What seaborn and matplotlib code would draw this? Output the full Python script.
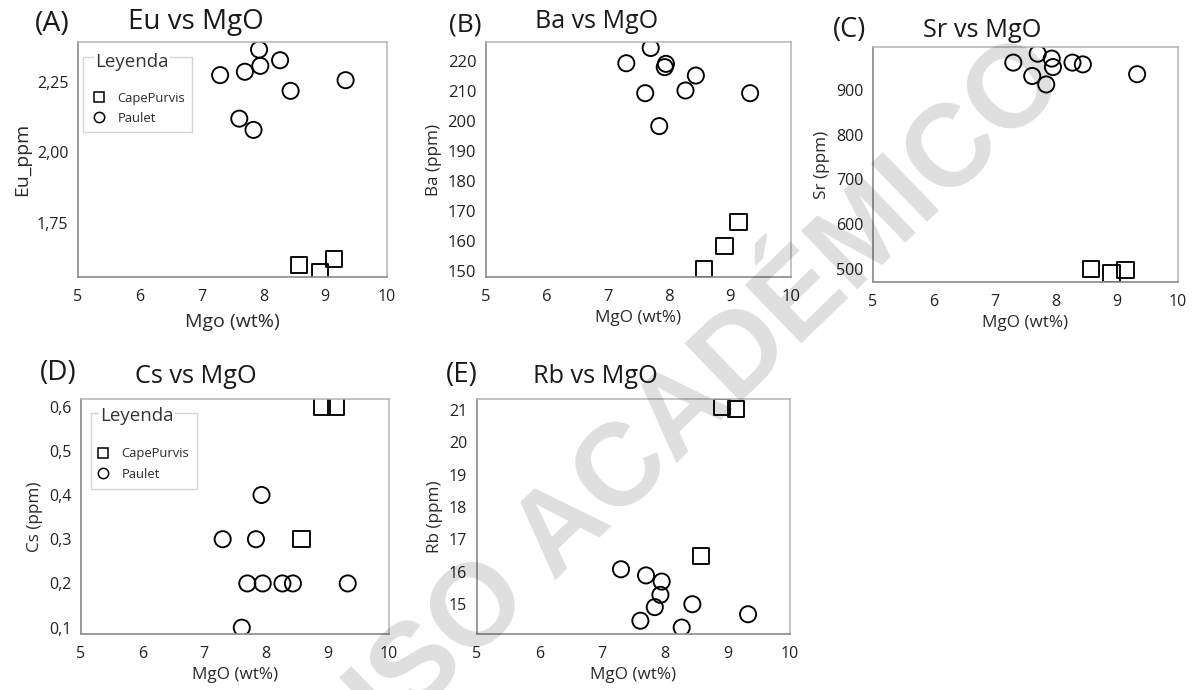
import matplotlib
matplotlib.use("Agg")
import matplotlib.pyplot as plt
from matplotlib.patches import Rectangle
from matplotlib.ticker import FixedLocator, FixedFormatter
import pandas as pd
import seaborn as sns

# ---- data -------------------------------------------------------------
group_order = ["CapePurvis", "Paulet"]

mgo_cape = [8.58, 8.91, 9.14]
mgo_paulet = [7.30, 7.61, 7.70, 7.84, 7.93, 7.95, 8.27, 8.44, 9.33]

eu_cape = [1.600, 1.575, 1.620]
eu_paulet = [2.275, 2.120, 2.287, 2.080, 2.366, 2.308, 2.328, 2.219, 2.257]

ba_cape = [150.6, 158.4, 166.3]
ba_paulet = [219.4, 209.4, 224.5, 198.4, 218.1, 219.2, 210.3, 215.3, 209.4]

sr_cape = [500, 489, 496]
sr_paulet = [962, 932, 982, 913, 971, 952, 962, 958, 936]

cs_cape = [0.3, 0.6, 0.6]
cs_paulet = [0.3, 0.1, 0.2, 0.3, 0.4, 0.2, 0.2, 0.2, 0.2]

rb_cape = [16.49, 21.10, 21.03]
rb_paulet = [16.08, 14.49, 15.89, 14.91, 15.29, 15.70, 14.28, 15.00, 14.69]

x_ticks = [5, 6, 7, 8, 9, 10]
x_tick_labels = ["5", "6", "7", "8", "9", "10"]

eu_ticks = [1.75, 2.00, 2.25]
eu_tick_labels = ["1,75", "2,00", "2,25"]
ba_ticks = [150, 160, 170, 180, 190, 200, 210, 220]
ba_tick_labels = ["150", "160", "170", "180", "190", "200", "210", "220"]
sr_ticks = [500, 600, 700, 800, 900]
sr_tick_labels = ["500", "600", "700", "800", "900"]
cs_ticks = [0.1, 0.2, 0.3, 0.4, 0.5, 0.6]
cs_tick_labels = ["0,1", "0,2", "0,3", "0,4", "0,5", "0,6"]
rb_ticks = [15, 16, 17, 18, 19, 20, 21]
rb_tick_labels = ["15", "16", "17", "18", "19", "20", "21"]

df = pd.DataFrame({
    "MgO": mgo_cape + mgo_paulet,
    "Eu": eu_cape + eu_paulet,
    "Ba": ba_cape + ba_paulet,
    "Sr": sr_cape + sr_paulet,
    "Cs": cs_cape + cs_paulet,
    "Rb": rb_cape + rb_paulet,
    "Grupo": ["CapePurvis"] * len(mgo_cape) + ["Paulet"] * len(mgo_paulet),
})

# ---- style ------------------------------------------------------------
sns.set_style("white")
plt.rcParams["font.family"] = ["Open Sans", "DejaVu Sans"]
plt.rcParams["text.color"] = "#1a1a1a"

W, H = 1199, 690
fig = plt.figure(figsize=(W / 100, H / 100), dpi=100)


def px_rect(left, top, right, bottom):
    return [left / W, 1 - bottom / H, (right - left) / W, (bottom - top) / H]


def fig_text(x, y, s, **kw):
    fig.text(x / W, 1 - y / H, s, va="baseline", ha="left", **kw)


panels = [
    dict(col="Eu", ylabel="Eu_ppm", xlabel="Mgo (wt%)", letter="(A)", title="Eu vs MgO",
         box=(78, 42, 387, 277), ylim=(1.556, 2.393), yt=eu_ticks, ytl=eu_tick_labels,
         letter_pos=(35, 31), title_pos=(128, 29), letter_fs=20.5, title_fs=20,
         label_fs=14, xpad=6, ypad=4, tick_fs=11.5,
         legend=dict(anchor=(0.048, 0.789), frame=(0.016, 0.617, 0.369, 0.936),
                     title=(0.055, 0.917))),
    dict(col="Ba", ylabel="Ba (ppm)", xlabel="MgO (wt%)", letter="(B)", title="Ba vs MgO",
         box=(486, 42, 791, 277), ylim=(148.0, 226.5), yt=ba_ticks, ytl=ba_tick_labels,
         letter_pos=(449, 31), title_pos=(535, 28), letter_fs=19, title_fs=18,
         label_fs=12.3, xpad=4, ypad=4, tick_fs=12, legend=None),
    dict(col="Sr", ylabel="Sr (ppm)", xlabel="MgO (wt%)", letter="(C)", title="Sr vs MgO",
         box=(873, 47, 1178, 282), ylim=(470, 997), yt=sr_ticks, ytl=sr_tick_labels,
         letter_pos=(833, 37), title_pos=(923, 37), letter_fs=19.5, title_fs=18.3,
         label_fs=12.3, xpad=4, ypad=4, tick_fs=11.5, legend=None),
    dict(col="Cs", ylabel="Cs (ppm)", xlabel="MgO (wt%)", letter="(D)", title="Cs vs MgO",
         box=(81, 399, 389, 634), ylim=(0.0857, 0.617), yt=cs_ticks, ytl=cs_tick_labels,
         letter_pos=(40, 380), title_pos=(135, 383), letter_fs=20, title_fs=18.2,
         label_fs=12.3, xpad=4, ypad=4, tick_fs=11.5,
         legend=dict(anchor=(0.051, 0.794), frame=(0.032, 0.617, 0.377, 0.940),
                     title=(0.062, 0.928))),
    dict(col="Rb", ylabel="Rb (ppm)", xlabel="MgO (wt%)", letter="(E)", title="Rb vs MgO",
         box=(477, 399, 790, 634), ylim=(14.08, 21.34), yt=rb_ticks, ytl=rb_tick_labels,
         letter_pos=(446, 382), title_pos=(533, 383), letter_fs=20, title_fs=18.2,
         label_fs=12.3, xpad=4, ypad=4, tick_fs=11.5, legend=None),
]

marker_map = {"CapePurvis": "s", "Paulet": "o"}

for p in panels:
    ax = fig.add_axes(px_rect(*p["box"]))
    sns.scatterplot(data=df, x="MgO", y=p["col"], style="Grupo", style_order=group_order,
                    markers=marker_map, s=135, color="black",
                    legend=bool(p["legend"]), ax=ax)
    for coll in ax.collections:
        coll.set_facecolor("none")
        coll.set_edgecolor("black")
        coll.set_linewidth(1.35)

    ax.set_xlim(5, 10)
    ax.set_ylim(*p["ylim"])
    ax.xaxis.set_major_locator(FixedLocator(x_ticks))
    ax.xaxis.set_major_formatter(FixedFormatter(x_tick_labels))
    ax.yaxis.set_major_locator(FixedLocator(p["yt"]))
    ax.yaxis.set_major_formatter(FixedFormatter(p["ytl"]))
    ax.tick_params(axis="x", length=0, pad=8.5, labelsize=p["tick_fs"], labelcolor="#222222")
    ax.tick_params(axis="y", length=0, pad=7, labelsize=p["tick_fs"], labelcolor="#222222")
    ax.set_xlabel(p["xlabel"], fontsize=p["label_fs"], color="#2a2a2a", labelpad=p["xpad"])
    ax.set_ylabel(p["ylabel"], fontsize=p["label_fs"], color="#2a2a2a", labelpad=p["ypad"])

    for side in ("left", "bottom"):
        ax.spines[side].set_color("#8a8a8a")
        ax.spines[side].set_linewidth(1.2)
    for side in ("top", "right"):
        ax.spines[side].set_color("#b4b4b4")
        ax.spines[side].set_linewidth(1.1)

    fig_text(*p["letter_pos"], p["letter"], fontsize=p["letter_fs"])
    fig_text(*p["title_pos"], p["title"], fontsize=p["title_fs"])

    lg = p["legend"]
    if lg:
        sns.move_legend(ax, "upper left", bbox_to_anchor=lg["anchor"], title=None,
                        frameon=False, fontsize=9.4, markerscale=0.64, borderpad=0,
                        handlelength=1.0, handletextpad=0.9, labelspacing=0.55,
                        borderaxespad=0)
        leg = ax.get_legend()
        for h in leg.legend_handles:
            h.set_markerfacecolor("none")
            h.set_markeredgecolor("black")
            h.set_markeredgewidth(1.1)
        for t in leg.get_texts():
            t.set_color("#2a2a2a")
        x0, y0, x1, y1 = lg["frame"]
        ax.add_patch(Rectangle((x0, y0), x1 - x0, y1 - y0, transform=ax.transAxes,
                               fill=False, edgecolor="#d4d4d4", linewidth=1.0, zorder=4))
        ax.text(*lg["title"], "Leyenda", transform=ax.transAxes, fontsize=13.5,
                color="#3b3232", va="center", ha="left", zorder=5,
                bbox=dict(facecolor="white", edgecolor="none", pad=1.0))

# diagonal usage stamp across the sheet
fig.text(0.5755, 0.4087, "USO ACADÉMICO", rotation=44, ha="center", va="center",
         fontsize=84, fontweight="bold", family="Liberation Sans",
         color="black", alpha=0.13, zorder=10)

fig.savefig("out.png", dpi=100)
